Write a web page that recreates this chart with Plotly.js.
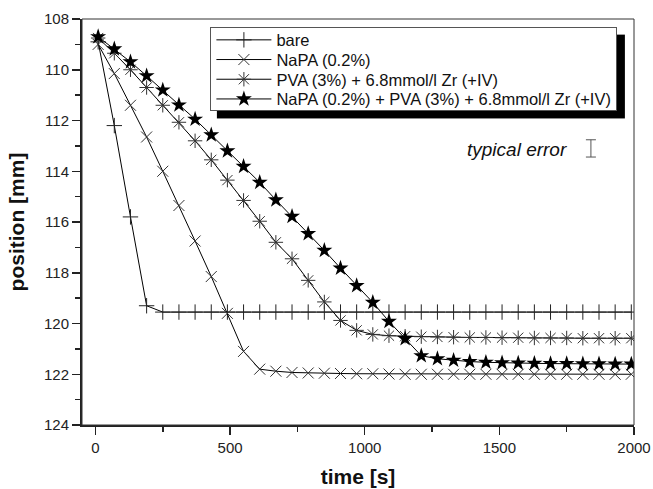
<!DOCTYPE html>
<html>
<head>
<meta charset="utf-8">
<script src="https://cdn.plot.ly/plotly-3.0.1.min.js"></script>
<style>html,body{margin:0;padding:0;background:#fff;}#chart{width:653px;height:489px;}</style>
</head>
<body>
<div id="chart"></div>
<script>
// ---- data ----
const timeS = [10, 70, 130, 190, 250, 310, 370, 430, 490, 550, 610, 670, 730, 790, 850, 910, 970, 1030, 1090, 1150,
               1210, 1270, 1330, 1390, 1450, 1510, 1570, 1630, 1690, 1750, 1810, 1870, 1930, 1990];

const bare = [108.9, 112.2, 115.8, 119.3, 119.55, 119.55, 119.55, 119.55, 119.55, 119.55, 119.55, 119.55, 119.55, 119.55,
              119.55, 119.55, 119.55, 119.55, 119.55, 119.55, 119.55, 119.55, 119.55, 119.55, 119.55, 119.55, 119.55,
              119.55, 119.55, 119.55, 119.55, 119.55, 119.55, 119.55];

const napa = [109.0, 110.15, 111.4, 112.65, 114.0, 115.35, 116.75, 118.15, 119.6, 121.1, 121.8, 121.88, 121.93, 121.95,
              121.96, 121.97, 121.98, 121.98, 121.99, 122.0, 122.0, 122.0, 122.0, 122.0, 122.0, 122.0, 122.0, 122.0,
              122.0, 122.0, 122.0, 122.0, 122.0, 122.0];

const pva = [108.75, 109.35, 110.0, 110.7, 111.4, 112.07, 112.8, 113.55, 114.35, 115.15, 115.97, 116.8, 117.45, 118.3,
             119.15, 119.88, 120.27, 120.43, 120.48, 120.5, 120.52, 120.53, 120.54, 120.55, 120.55, 120.56, 120.56,
             120.57, 120.57, 120.57, 120.58, 120.58, 120.58, 120.58];

const combo = [108.7, 109.18, 109.69, 110.24, 110.8, 111.39, 111.95, 112.57, 113.2, 113.81, 114.44, 115.13, 115.78,
               116.46, 117.12, 117.82, 118.51, 119.17, 119.92, 120.6, 121.27, 121.39, 121.45, 121.5, 121.53, 121.55,
               121.56, 121.57, 121.58, 121.58, 121.59, 121.59, 121.6, 121.6];

const seriesNames = ['bare', 'NaPA (0.2%)', 'PVA (3%) + 6.8mmol/l Zr (+IV)', 'NaPA (0.2%) + PVA (3%) + 6.8mmol/l Zr (+IV)'];

const errorX = [1840];
const errorY = [113.1];
const errorHalf = [0.34];
const errorLabel = 'typical error';

const xTicks = [0, 500, 1000, 1500, 2000];
const yTicks = [108, 110, 112, 114, 116, 118, 120, 122, 124];

// ---- chart ----
const FONT = '"Liberation Sans", Arial, sans-serif';
const lineStyle = {color: '#000', width: 1};

const traces = [
  {x: timeS, y: bare, name: seriesNames[0], mode: 'lines+markers', line: lineStyle,
   marker: {symbol: 'cross-thin', size: 11, line: {color: '#222', width: 1}}},
  {x: timeS, y: napa, name: seriesNames[1], mode: 'lines+markers', line: lineStyle,
   marker: {symbol: 'x-thin', size: 11, line: {color: '#333', width: 1}}},
  {x: timeS, y: pva, name: seriesNames[2], mode: 'lines+markers', line: lineStyle,
   marker: {symbol: 'asterisk', size: 12, line: {color: '#333', width: 1}}},
  {x: timeS, y: combo, name: seriesNames[3], mode: 'lines+markers', line: lineStyle,
   marker: {symbol: 'star', size: 12, color: '#000', line: {width: 0}}},
  {x: errorX, y: errorY, mode: 'markers', showlegend: false, hoverinfo: 'skip',
   marker: {size: 1, color: 'rgba(0,0,0,0)'},
   error_y: {type: 'data', array: errorHalf, visible: true, color: '#555', thickness: 1, width: 5}}
];

const layout = {
  width: 653, height: 489,
  margin: {l: 81.5, r: 19, t: 19, b: 64},
  paper_bgcolor: '#fff', plot_bgcolor: '#fff',
  font: {family: FONT, color: '#222', size: 15},
  showlegend: true,
  xaxis: {
    range: [-50, 2000], tickvals: xTicks, ticktext: xTicks.map(String),
    ticks: 'outside', ticklen: 8, tickwidth: 1.5, tickcolor: '#222',
    minor: {dtick: 250, ticks: 'outside', ticklen: 5, tickwidth: 1.5, tickcolor: '#222', showgrid: false},
    showline: true, linewidth: 2, linecolor: '#222', mirror: false,
    showgrid: false, zeroline: false,
    tickfont: {size: 15, family: FONT, color: '#222'},
    title: {text: 'time [s]', font: {size: 21, family: FONT, color: '#111', weight: 'bold'}, standoff: 14}
  },
  yaxis: {
    range: [124, 108], tickvals: yTicks, ticktext: yTicks.map(String),
    ticks: 'outside', ticklen: 8, tickwidth: 1.5, tickcolor: '#222',
    minor: {dtick: 1, ticks: 'outside', ticklen: 5, tickwidth: 1.5, tickcolor: '#222', showgrid: false},
    showline: true, linewidth: 2, linecolor: '#222', mirror: false,
    showgrid: false, zeroline: false,
    tickfont: {size: 15, family: FONT, color: '#222'},
    title: {text: 'position [mm]', font: {size: 21, family: FONT, color: '#111', weight: 'bold'}, standoff: 14}
  },
  legend: {
    x: 0.2326, y: 0.98, xanchor: 'left', yanchor: 'top',
    bgcolor: '#fff', bordercolor: '#555', borderwidth: 1,
    font: {size: 16.5, family: FONT, color: '#111'},
    itemwidth: 55, tracegroupgap: 0
  },
  shapes: [
    // plot frame (top/right thin)
    {type: 'rect', xref: 'paper', yref: 'paper', x0: 0, x1: 1, y0: 0, y1: 1,
     line: {color: '#333', width: 1}, layer: 'above'}
  ],
  annotations: [
    {x: 1566, y: 113.16, xref: 'x', yref: 'y', text: '<i>' + errorLabel + '</i>', showarrow: false,
     font: {size: 19, family: FONT, color: '#111'}}
  ]
};

Plotly.newPlot('chart', traces, layout, {displayModeBar: false, staticPlot: true}).then(function (gd) {
  // tighten legend rows and add the drop shadow (decoration only)
  const NS = 'http://www.w3.org/2000/svg';
  const leg = gd.querySelector('g.legend');
  if (!leg) return;
  const items = leg.querySelectorAll('g.traces');
  const rowH = 19.7;
  let y0 = null;
  items.forEach(function (it, i) {
    const m = /translate\(\s*([-\d.]+)[ ,]+([-\d.]+)\s*\)/.exec(it.getAttribute('transform') || '');
    if (!m) return;
    const x = parseFloat(m[1]), y = parseFloat(m[2]);
    if (i === 0) y0 = y - 5.5;
    it.setAttribute('transform', 'translate(' + x + ',' + (y0 + i * rowH) + ')');
  });
  const bg = leg.querySelector('rect.bg');
  if (bg && y0 !== null) {
    bg.setAttribute('height', y0 + (items.length - 1) * rowH + 11);
  }
  if (bg) {
    const bx = parseFloat(bg.getAttribute('x') || 0), by = parseFloat(bg.getAttribute('y') || 0);
    const bw = parseFloat(bg.getAttribute('width')), bh = parseFloat(bg.getAttribute('height'));
    const sh = document.createElementNS(NS, 'rect');
    sh.setAttribute('x', bx + 6);
    sh.setAttribute('y', by + 7);
    sh.setAttribute('width', bw + 2);
    sh.setAttribute('height', bh + 1);
    sh.setAttribute('fill', '#000');
    leg.insertBefore(sh, leg.firstChild);
  }
});
</script>
</body>
</html>
